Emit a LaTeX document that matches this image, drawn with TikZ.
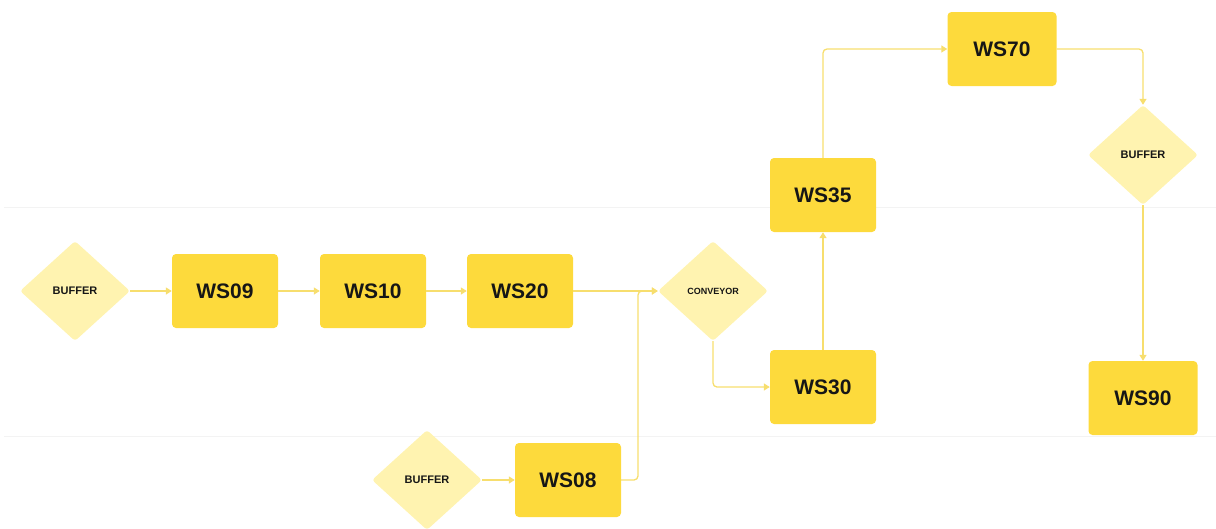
\documentclass[tikz,border=0pt]{standalone}
\usepackage{fontspec}
\setmainfont{Liberation Sans}
\usetikzlibrary{shapes.geometric,arrows.meta}
\definecolor{boxY}{HTML}{FDDA3C}
\definecolor{diaY}{HTML}{FFF3B0}
\definecolor{lineY}{HTML}{F7DE6E}
\definecolor{txt}{HTML}{161616}
\definecolor{lane}{HTML}{F3F3F3}
\begin{document}
\begin{tikzpicture}[x=1pt,y=-1pt,
 ws/.style={rectangle, rounded corners=4pt, fill=boxY, minimum width=106pt, minimum height=74pt, inner sep=0pt, font=\bfseries\fontsize{21}{21}\selectfont, text=txt},
 dia/.style={diamond, rounded corners=3pt, fill=diaY, minimum width=110pt, minimum height=100pt, inner sep=0pt, font=\bfseries\fontsize{11}{11}\selectfont, text=txt},
 conn/.style={draw=lineY, line width=1.3pt, -{Triangle[length=6pt,width=7pt]}, rounded corners=4pt}
]
\useasboundingbox (0,0) rectangle (1216,528);
\draw[lane, line width=1pt] (4,207) -- (1216,207);
\draw[lane, line width=1pt] (4,436) -- (1216,436);

\node[dia] (b1) at (75,291) {BUFFER};
\node[ws] (ws09) at (225,291) {WS09};
\node[ws] (ws10) at (373,291) {WS10};
\node[ws] (ws20) at (520,291) {WS20};
\node[dia, font=\bfseries\fontsize{9}{9}\selectfont] (conv) at (713,291) {CONVEYOR};
\node[ws] (ws30) at (823,387) {WS30};
\node[ws] (ws35) at (823,195) {WS35};
\node[ws, minimum width=109pt] (ws70) at (1002,49) {WS70};
\node[dia] (b3) at (1143,155) {BUFFER};
\node[ws, minimum width=109pt] (ws90) at (1143,398) {WS90};
\node[dia] (b2) at (427,480) {BUFFER};
\node[ws] (ws08) at (568,480) {WS08};
\coordinate (j) at (638,291);

\draw[conn] (b1) -- (ws09);
\draw[conn] (ws09) -- (ws10);
\draw[conn] (ws10) -- (ws20);
\draw[conn] (ws20) -- (conv);
\draw[conn] (b2) -- (ws08);
\draw[conn] (ws08.east) -| (j) -- (conv.west);
\draw[conn] (conv.south) |- (ws30.west);
\draw[conn] (ws30) -- (ws35);
\draw[conn] (ws35.north) |- (ws70.west);
\draw[conn] (ws70.east) -| (b3.north);
\draw[conn] (b3) -- (ws90);
\end{tikzpicture}
\end{document}
